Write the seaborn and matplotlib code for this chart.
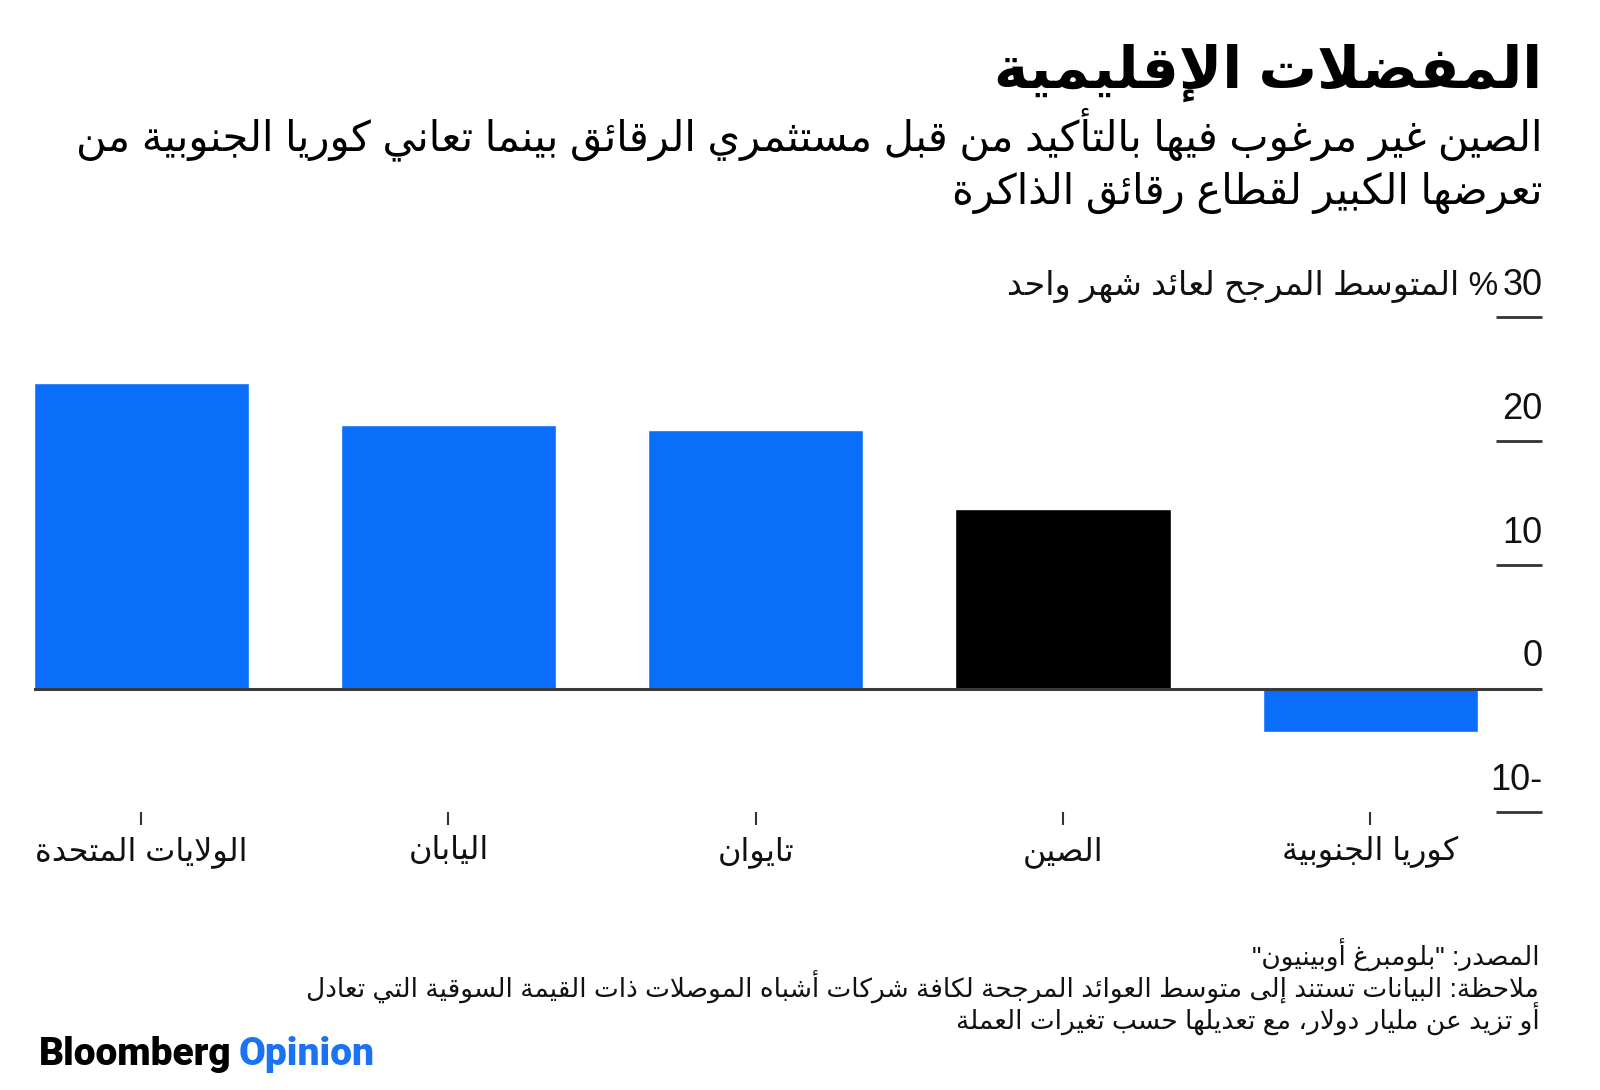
import re
import matplotlib
matplotlib.use("Agg")
import matplotlib.pyplot as plt
import seaborn as sns

# Data
countries = ["الولايات المتحدة", "اليابان", "تايوان", "الصين", "كوريا الجنوبية"]
returns = [24.7, 21.3, 20.9, 14.5, -3.5]
bar_colors = ["#0A6EFA", "#0A6EFA", "#0A6EFA", "#000000", "#0A6EFA"]
yticks = [-10, 0, 10, 20, 30]

title = "المفضلات الإقليمية"
subtitle = ["الصين غير مرغوب فيها بالتأكيد من قبل مستثمري الرقائق بينما تعاني كوريا الجنوبية من",
            "تعرضها الكبير لقطاع رقائق الذاكرة"]
axis_title = "المتوسط المرجح لعائد شهر واحد"
notes = ["المصدر: \"بلومبرغ أوبينيون\"",
         "ملاحظة: البيانات تستند إلى متوسط العوائد المرجحة لكافة شركات أشباه الموصلات ذات القيمة السوقية التي تعادل",
         "أو تزيد عن مليار دولار، مع تعديلها حسب تغيرات العملة"]

# --- minimal Arabic shaping (matplotlib draws glyphs unshaped, left to right) ---
FORMS = {
    'ء': (0xFE80, 1), 'آ': (0xFE81, 2), 'أ': (0xFE83, 2), 'ؤ': (0xFE85, 2), 'إ': (0xFE87, 2),
    'ئ': (0xFE89, 4), 'ا': (0xFE8D, 2), 'ب': (0xFE8F, 4), 'ة': (0xFE93, 2), 'ت': (0xFE95, 4),
    'ث': (0xFE99, 4), 'ج': (0xFE9D, 4), 'ح': (0xFEA1, 4), 'خ': (0xFEA5, 4), 'د': (0xFEA9, 2),
    'ذ': (0xFEAB, 2), 'ر': (0xFEAD, 2), 'ز': (0xFEAF, 2), 'س': (0xFEB1, 4), 'ش': (0xFEB5, 4),
    'ص': (0xFEB9, 4), 'ض': (0xFEBD, 4), 'ط': (0xFEC1, 4), 'ظ': (0xFEC5, 4), 'ع': (0xFEC9, 4),
    'غ': (0xFECD, 4), 'ف': (0xFED1, 4), 'ق': (0xFED5, 4), 'ك': (0xFED9, 4), 'ل': (0xFEDD, 4),
    'م': (0xFEE1, 4), 'ن': (0xFEE5, 4), 'ه': (0xFEE9, 4), 'و': (0xFEED, 2), 'ى': (0xFEEF, 2),
    'ي': (0xFEF1, 4),
}
LAM_ALEF = {'ا': 0xFEFB, 'أ': 0xFEF7, 'إ': 0xFEF9, 'آ': 0xFEF5}


def shape(s):
    chars = []
    i = 0
    while i < len(s):
        if s[i] == 'ل' and i + 1 < len(s) and s[i + 1] in LAM_ALEF:
            chars.append(("LA", s[i + 1]))
            i += 2
        else:
            chars.append(("C", s[i]))
            i += 1
    out = []
    for k, (kind, c) in enumerate(chars):
        prev = chars[k - 1] if k > 0 else None
        nxt = chars[k + 1] if k + 1 < len(chars) else None
        prev_joins = (prev is not None and prev[0] == "C" and prev[1] in FORMS
                      and FORMS[prev[1]][1] == 4)
        if kind == "LA":
            out.append(chr(LAM_ALEF[c] + (1 if prev_joins else 0)))
            continue
        if c not in FORMS:
            out.append(c)
            continue
        base, n = FORMS[c]
        next_joins = (n == 4 and nxt is not None
                      and (nxt[0] == "LA" or (nxt[1] in FORMS and nxt[1] != 'ء')))
        if prev_joins and next_joins:
            off = 3
        elif prev_joins and n >= 2:
            off = 1
        elif next_joins:
            off = 2
        else:
            off = 0
        out.append(chr(base + off))
    return "".join(out)


def ar(s):
    tokens = re.findall(r"[0-9]+|.", shape(s))
    return "".join(reversed(tokens))


sns.set_theme(style="white")
plt.rcParams["font.family"] = ["Liberation Sans", "DejaVu Sans"]

fig = plt.figure(figsize=(16, 10.9), dpi=100)
ax = fig.add_axes([0.021, 0.2548, 0.943, 0.4540])

sns.barplot(x=list(range(len(countries))), y=returns, hue=list(range(len(countries))),
            palette=bar_colors, legend=False, width=0.7, saturation=1, ax=ax)

ax.set_xlim(-0.35, 4.56)
ax.set_ylim(-10, 30)
for sp in ax.spines.values():
    sp.set_visible(False)
ax.grid(False)

ax.axhline(0, color="#3a3a3a", lw=2.2, zorder=3)

# y ticks: short dashes at the right with labels sitting above
ax.set_yticks([])
ax.hlines(yticks, 0.969, 1.0, transform=ax.get_yaxis_transform(), color="#333333", lw=2, clip_on=False)
tick_texts = {}
for v in yticks:
    lab = f"{abs(v)}-" if v < 0 else str(v)
    tick_texts[v] = ax.annotate(lab, xy=(1.0, v), xycoords=("axes fraction", "data"),
                                xytext=(0, 16), textcoords="offset points", ha="right",
                                va="baseline", fontsize=26, color="#111111")

ax.set_xticks(range(len(countries)))
ax.set_xticklabels([ar(c) for c in countries], fontsize=23, color="#111111")
ax.tick_params(axis="x", bottom=True, length=9, width=1.5, color="#333333", pad=8)
ax.set_xlabel("")
ax.set_ylabel("")

# header
fig.text(0.964, 1 - 88 / 1090, ar(title), ha="right", va="baseline", fontsize=42,
         fontweight="bold", color="#000000")
for i, line in enumerate(subtitle):
    fig.text(0.964, 1 - (150 + 54 * i) / 1090, ar(line), ha="right", va="baseline",
             fontsize=30, color="#000000")

# footnotes
for i, line in enumerate(notes):
    fig.text(0.962, 1 - (966 + 32 * i) / 1090, ar(line), ha="right", va="baseline",
             fontsize=19, color="#111111")

fig.canvas.draw()
renderer = fig.canvas.get_renderer()

# unit label sits just left of the top tick value, on the same baseline
top_w = tick_texts[yticks[-1]].get_window_extent(renderer).width * 72 / fig.dpi
ax.annotate(ar("% " + axis_title), xy=(1.0, yticks[-1]), xycoords=("axes fraction", "data"),
            xytext=(-(top_w + 3), 16), textcoords="offset points", ha="right", va="baseline",
            fontsize=24, color="#111111")

logo = fig.text(0.024, 1 - 1065 / 1090, "Bloomberg", ha="left", va="baseline", fontsize=28,
                fontweight="black", color="#000000", family="Roboto")
bb = logo.get_window_extent(renderer)
fig.text((bb.x1 + 8) / fig.bbox.width, 1 - 1065 / 1090, "Opinion", ha="left", va="baseline",
         fontsize=28, fontweight="black", color="#1A73F2", family="Roboto")

fig.savefig("out.png", dpi=100, facecolor="white")
